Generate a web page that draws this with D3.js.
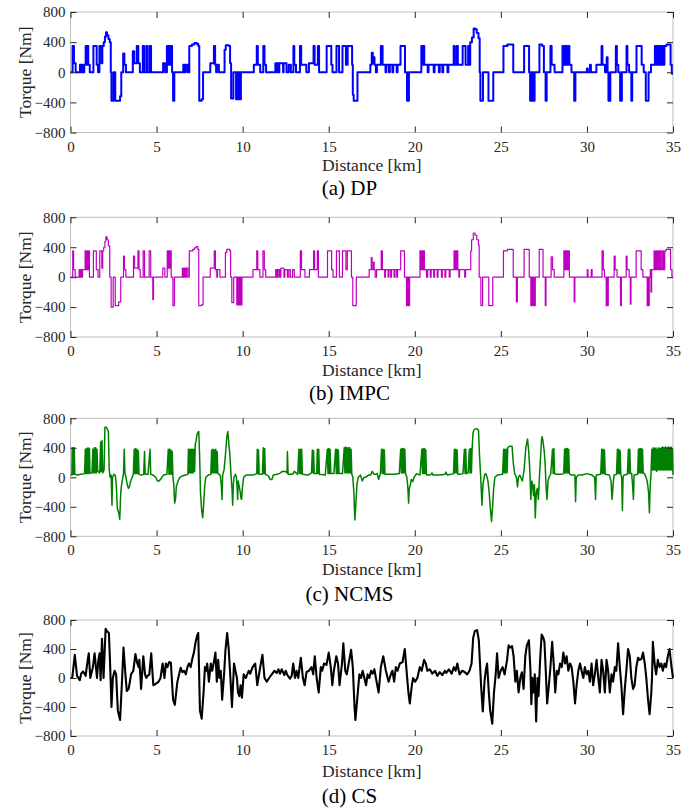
<!DOCTYPE html>
<html>
<head>
<meta charset="utf-8">
<script src="https://cdn.jsdelivr.net/npm/d3@7"></script>
<style>
  body { margin: 0; background: #fff; }
  svg { display: block; }
</style>
</head>
<body>
<script>
// Axis ticks and panel captions
const distanceTicks = [0, 5, 10, 15, 20, 25, 30, 35];
const torqueTicks = [-800, -400, 0, 400, 800];
const captions = ["(a) DP", "(b) IMPC", "(c) NCMS", "(d) CS"];

// Torque [Nm] versus distance [km]; DP and IMPC hold each value until the next breakpoint
const dpTorque = [
  [0,0],[0.12,350],[0.2,120],[0.3,0],
  [0.55,100],[0.62,0],[0.67,100],[0.75,0],[0.8,100],[0.88,350],[0.92,100],[0.97,350],[1.03,100],[1.12,0],
  [1.33,350],[1.52,100],[1.6,0],
  [1.68,350],[1.8,120],[1.85,350],[1.93,400],[2.0,470],[2.06,530],[2.12,490],[2.2,440],[2.28,400],[2.34,0],
  [2.38,-380],[2.5,0],[2.6,-380],[2.88,-320],[2.95,0],
  [3.06,250],[3.13,100],[3.22,0],
  [3.62,280],[3.7,120],[3.85,350],[3.94,120],[4.03,0],
  [4.2,350],[4.27,0],[4.4,350],[4.47,0],[4.6,350],[4.68,0],
  [5.38,120],[5.5,0],[5.6,350],[5.64,100],[5.68,350],[5.72,100],[5.76,350],[5.82,100],[5.86,350],[5.9,0],
  [5.96,-380],[6.03,0],
  [6.55,100],[6.62,0],[6.68,100],[6.8,0],
  [6.9,350],[7.05,370],[7.2,390],[7.32,380],[7.42,350],[7.48,-380],[7.62,-360],[7.7,0],
  [8.12,120],[8.33,350],[8.4,100],[8.46,0],[8.5,100],[8.62,0],
  [8.95,300],[9.02,360],[9.2,350],[9.27,120],[9.33,-350],[9.46,0],
  [9.62,-360],[9.66,0],[9.7,-360],[9.74,0],[9.77,-360],[9.82,0],[9.85,-360],[9.9,0],
  [10.65,100],[10.82,350],[10.88,100],[11.02,0],[11.2,350],[11.27,100],[11.36,0],
  [11.9,120],[12.0,0],[12.03,120],[12.1,0],[12.13,120],[12.35,0],[12.38,120],[12.55,0],
  [12.68,100],[12.8,0],[12.95,350],[13.0,100],[13.1,0],[13.33,350],[13.4,100],[13.7,0],
  [13.85,120],[14.12,350],[14.18,100],[14.37,350],[14.44,0],
  [14.88,350],[15.15,100],[15.22,0],[15.45,350],[15.6,0],[15.8,350],[16.0,100],[16.1,350],[16.36,100],[16.4,-300],[16.45,-380],[16.67,0],
  [17.42,100],[17.5,260],[17.56,120],[17.62,200],[17.66,100],[17.74,0],[17.8,100],[18.03,350],[18.13,100],[18.3,0],[18.35,100],[18.5,0],[18.55,100],[18.7,0],[18.75,100],[18.95,0],[19.0,100],[19.17,350],[19.43,0],
  [19.55,-380],[19.66,0],
  [20.38,350],[20.45,100],[20.5,350],[20.55,100],[20.75,0],[20.8,100],[21.1,0],[21.15,100],[21.4,0],[21.45,100],[21.6,0],[21.65,100],[21.9,0],[21.95,100],
  [22.26,350],[22.32,100],[22.44,350],[22.5,100],[22.78,350],[22.95,100],[23.1,350],[23.16,100],[23.22,400],[23.32,460],[23.42,580],[23.5,570],[23.6,520],[23.7,450],[23.77,0],
  [23.81,-380],[23.96,0],[24.28,-380],[24.56,0],
  [25.15,350],[25.38,370],[25.72,0],
  [26.35,350],[26.64,0],[26.7,-380],[26.74,0],[26.78,-380],[26.82,0],[26.88,-380],[26.96,0],
  [27.24,370],[27.4,350],[27.5,0],[27.6,-380],[27.66,0],[27.88,350],[27.95,100],[28.12,0],
  [28.58,350],[28.63,100],[28.7,350],[28.75,100],[28.8,350],[28.85,100],[28.92,350],[28.98,100],[29.1,0],
  [29.26,-380],[29.33,0],
  [30.0,50],[30.05,0],[30.18,100],[30.23,0],[30.55,100],[30.85,350],[30.9,100],[31.05,0],[31.15,200],[31.2,0],[31.25,-380],[31.36,0],
  [31.68,350],[31.74,100],[31.82,0],[31.93,-380],[32.03,0],[32.3,350],[32.35,100],[32.45,0],[32.58,-380],[32.63,0],
  [32.88,350],[33.18,100],[33.3,0],[33.42,-380],[33.58,0],[33.72,100],[33.95,350],[34.02,100],[34.1,350],[34.15,100],[34.22,350],[34.3,100],[34.38,350],[34.45,100],[34.5,350],[34.62,370],[34.86,100],[34.93,-20],[35,-20]
];

const impcTorque = [
  [0,0],[0.13,350],[0.18,100],[0.27,0],
  [0.5,100],[0.55,0],[0.6,100],[0.65,0],[0.7,100],[0.85,350],[0.9,100],[0.95,350],[1.0,100],[1.05,350],[1.1,0],
  [1.33,350],[1.5,100],[1.6,0],[1.7,350],[1.82,120],[1.87,350],[1.93,400],[2.0,480],[2.05,540],[2.12,500],[2.2,420],[2.28,0],
  [2.36,-400],[2.48,0],[2.6,-380],[2.8,-330],[2.92,0],
  [3.08,280],[3.13,100],[3.22,0],
  [3.66,280],[3.72,120],[3.92,350],[3.98,100],[4.05,0],[4.22,350],[4.3,0],[4.57,350],[4.66,0],[4.78,-300],[4.82,0],
  [5.36,120],[5.48,0],[5.62,350],[5.66,120],[5.7,350],[5.74,120],[5.78,350],[5.85,0],[5.95,-380],[6.04,0],
  [6.5,120],[6.54,0],[6.58,120],[6.62,0],[6.66,120],[6.7,0],[6.74,120],[6.82,0],
  [6.9,350],[7.1,370],[7.2,390],[7.3,410],[7.4,370],[7.45,-380],[7.6,-370],[7.7,0],
  [8.12,120],[8.35,350],[8.42,100],[8.5,0],[8.54,100],[8.68,0],
  [9.0,330],[9.08,370],[9.25,350],[9.3,0],[9.37,-340],[9.48,0],
  [9.66,-370],[9.69,0],[9.71,-370],[9.74,0],[9.76,-370],[9.79,0],[9.81,-370],[9.84,0],[9.86,-370],[9.89,0],[9.91,-370],[9.96,0],
  [10.6,100],[10.82,350],[10.88,100],[11.0,0],[11.18,350],[11.26,100],[11.34,0],
  [11.92,100],[11.98,0],[12.02,100],[12.1,0],[12.14,100],[12.18,0],[12.22,120],[12.4,0],[12.45,100],[12.6,0],[12.68,100],[12.77,0],
  [12.9,100],[13.0,0],[13.35,350],[13.42,100],[13.62,0],[13.88,100],[14.12,350],[14.18,100],[14.34,350],[14.4,0],
  [14.93,350],[15.17,100],[15.25,0],[15.45,350],[15.62,0],[15.8,350],[16.0,100],[16.08,350],[16.32,0],[16.4,-380],[16.6,0],
  [17.35,100],[17.47,260],[17.52,100],[17.6,200],[17.64,100],[17.7,0],[17.78,100],[18.05,350],[18.12,100],[18.25,0],[18.3,100],[18.45,0],[18.5,100],[18.6,0],[18.65,100],[18.8,0],[18.85,100],[18.95,0],[19.0,100],[19.18,350],[19.4,0],
  [19.52,-380],[19.56,0],[19.59,-380],[19.63,0],[19.66,-380],[19.7,0],
  [20.3,350],[20.35,100],[20.4,350],[20.45,100],[20.5,350],[20.56,100],[20.68,0],[20.75,100],[20.9,0],[20.95,100],[21.1,0],[21.15,100],[21.3,0],[21.35,100],[21.55,0],[21.6,100],[21.75,0],[21.8,100],[22.0,0],[22.05,100],
  [22.28,350],[22.33,100],[22.38,350],[22.43,100],[22.46,350],[22.5,100],[22.56,0],[22.6,100],[22.9,0],[22.95,100],[23.25,350],[23.3,500],[23.4,590],[23.5,560],[23.6,500],[23.7,430],[23.74,0],
  [23.84,-380],[23.94,0],[24.3,-380],[24.53,0],
  [25.15,350],[25.38,370],[25.72,0],[25.9,-330],[25.96,0],
  [26.35,370],[26.65,0],[26.74,-380],[26.78,0],[26.84,-380],[26.88,0],[26.94,-380],[27.0,0],
  [27.23,370],[27.45,0],[27.58,-380],[27.62,0],[27.92,270],[28.0,100],[28.1,0],
  [28.66,350],[28.7,100],[28.75,350],[28.8,100],[28.85,350],[28.9,100],[28.94,350],[28.98,0],
  [29.26,-330],[29.3,0],[30.02,100],[30.06,0],[30.25,100],[30.3,0],[30.88,350],[30.95,100],[31.02,0],
  [31.12,-380],[31.16,0],[31.19,-380],[31.24,0],[31.58,280],[31.64,100],[31.75,0],[31.95,-380],[32.0,0],
  [32.28,280],[32.33,100],[32.45,0],[32.52,-360],[32.56,0],[32.86,350],[33.15,100],[33.25,0],
  [33.5,-380],[33.55,0],[33.58,-380],[33.62,0],[33.68,100],[33.72,-200],[33.76,100],[33.9,350],[33.95,100],[34.02,350],[34.07,100],[34.14,350],[34.2,100],[34.26,350],[34.32,100],[34.4,350],[34.45,100],[34.52,350],[34.6,370],[34.86,100],[34.94,0],[35,0]
];

const ncmsTorque = [
  [0,30],[0.08,30],[0.1,400],[0.13,40],[0.16,400],[0.19,40],[0.22,400],[0.25,40],
  [0.4,30],[0.6,40],[0.82,50],
  [0.86,380],[0.9,50],[0.94,390],[0.98,50],[1.02,400],[1.06,50],[1.1,390],[1.13,60],[1.25,60],
  [1.3,380],[1.34,60],[1.38,400],[1.42,60],[1.46,400],[1.5,60],[1.54,380],[1.58,80],
  [1.7,60],[1.75,480],[1.79,80],[1.83,500],[1.87,60],
  [1.95,100],[2.0,680],[2.08,680],[2.15,650],[2.2,620],[2.25,100],[2.3,0],[2.36,30],[2.41,-380],[2.44,0],[2.52,40],[2.6,30],
  [2.66,-100],[2.72,-420],[2.8,-480],[2.86,-570],[2.92,-200],[2.98,-80],[3.04,0],[3.08,50],[3.12,380],[3.16,60],[3.22,0],
  [3.3,-100],[3.36,-150],[3.42,-130],[3.5,-50],[3.58,0],[3.65,40],
  [3.7,380],[3.74,50],[3.78,390],[3.82,50],[3.86,380],[3.9,50],[3.94,360],[3.98,40],
  [4.1,30],[4.25,40],[4.3,350],[4.34,40],[4.5,40],[4.62,380],[4.66,40],[4.8,30],[4.95,0],[5.05,-50],[5.15,-50],[5.25,-20],[5.4,30],[5.6,40],
  [5.68,380],[5.72,40],[5.76,380],[5.8,40],[5.84,370],[5.88,40],[5.91,350],[5.95,0],
  [6.0,-100],[6.05,-350],[6.1,-300],[6.15,-120],[6.25,-50],[6.35,0],[6.5,20],[6.7,30],[6.82,40],
  [6.85,380],[6.89,60],[6.93,380],[6.97,60],[7.01,380],[7.05,60],[7.09,380],[7.13,60],[7.17,380],[7.21,80],
  [7.25,450],[7.3,500],[7.35,580],[7.4,610],[7.45,620],[7.5,300],[7.55,-200],[7.62,-450],[7.68,-550],[7.74,-350],[7.8,-100],[7.86,0],[8.0,30],[8.15,40],
  [8.2,370],[8.24,60],[8.28,380],[8.32,60],[8.36,370],[8.4,60],[8.44,380],[8.48,60],[8.52,350],[8.56,50],
  [8.7,30],[8.76,-100],[8.8,-300],[8.84,30],[8.92,100],[9.0,300],[9.08,550],[9.14,620],[9.2,450],[9.26,300],[9.32,50],
  [9.38,-150],[9.42,-380],[9.46,-100],[9.5,0],[9.58,40],[9.64,0],[9.68,-150],[9.71,-300],[9.74,-50],[9.78,-100],[9.82,-150],[9.86,-200],[9.9,-280],[9.94,-300],[9.98,-150],[10.06,0],[10.2,30],[10.6,30],
  [10.82,50],[10.85,380],[10.89,50],[10.92,370],[10.96,40],
  [11.15,40],[11.2,400],[11.24,50],[11.28,390],[11.32,40],[11.5,20],[11.6,-30],[11.7,-30],[11.78,30],[12.0,40],[12.2,60],[12.3,80],[12.5,80],[12.58,60],[12.6,350],[12.64,40],[12.9,40],[13.0,80],[13.1,60],[13.2,40],
  [13.27,380],[13.31,50],[13.35,380],[13.39,50],[13.43,380],[13.47,40],
  [13.8,30],[14.0,60],[14.05,370],[14.09,60],[14.12,360],[14.16,50],[14.3,50],[14.34,380],[14.38,50],[14.42,380],[14.46,40],[14.8,30],
  [14.92,380],[14.96,50],[15.0,390],[15.04,50],[15.08,380],[15.12,50],[15.3,50],
  [15.4,380],[15.44,50],[15.48,380],[15.52,50],[15.56,370],[15.6,50],[15.8,50],
  [15.9,400],[15.94,60],[15.98,410],[16.02,60],[16.06,400],[16.1,60],[16.14,400],[16.18,60],[16.22,400],[16.26,60],[16.3,380],[16.34,40],
  [16.4,0],[16.46,-200],[16.52,-580],[16.58,-350],[16.64,-100],[16.71,0],[16.85,30],[16.95,-50],[17.05,0],[17.14,0],[17.3,30],[17.43,30],[17.53,80],[17.63,40],[17.72,40],[17.82,50],[17.9,-30],[18.0,50],
  [18.07,380],[18.11,50],[18.15,380],[18.19,50],[18.23,370],[18.27,40],[18.4,40],[18.8,40],[19.1,50],
  [19.18,380],[19.22,60],[19.26,390],[19.3,60],[19.34,390],[19.38,60],[19.42,380],[19.46,50],
  [19.54,0],[19.6,-150],[19.64,-350],[19.68,-150],[19.74,-100],[19.8,-30],[19.88,-60],[19.96,0],[20.1,50],[20.3,30],
  [20.41,380],[20.45,50],[20.49,390],[20.53,50],[20.57,390],[20.61,50],[20.64,370],[20.68,30],[20.9,30],[21.0,60],[21.06,30],[21.5,30],[21.75,40],[21.81,70],[21.88,30],[22.1,40],[22.25,50],
  [22.3,380],[22.34,60],[22.38,380],[22.42,60],[22.46,370],[22.5,40],[22.6,40],[22.8,50],[22.88,380],[22.92,50],[22.96,380],[23.0,50],[23.1,60],
  [23.17,380],[23.21,60],[23.25,390],[23.29,60],[23.33,380],[23.38,600],[23.45,650],[23.6,660],[23.7,640],[23.76,300],
  [23.84,-50],[23.9,-380],[23.96,-100],[24.05,30],[24.12,50],[24.2,0],[24.25,-50],[24.32,-200],[24.38,-400],[24.46,-600],[24.52,-400],[24.58,-150],[24.65,0],[24.8,30],[25.1,40],
  [25.16,380],[25.2,60],[25.24,380],[25.28,60],[25.32,380],[25.36,60],[25.4,400],[25.5,420],[25.65,420],[25.72,200],[25.8,50],[25.9,0],[25.97,-130],[26.02,0],[26.1,30],[26.25,-50],
  [26.35,100],[26.45,400],[26.55,520],[26.62,350],[26.68,100],[26.74,-300],[26.8,-50],[26.85,-100],[26.9,-250],[26.95,-100],[27.0,-550],[27.06,-200],[27.12,-150],[27.18,-300],[27.24,0],
  [27.3,250],[27.36,500],[27.4,550],[27.46,470],[27.52,350],[27.58,150],[27.62,-100],[27.68,-300],[27.74,-50],[27.8,0],[27.9,50],
  [28.0,380],[28.04,50],[28.08,390],[28.12,50],[28.2,40],[28.5,40],[28.65,50],
  [28.7,380],[28.74,60],[28.78,390],[28.82,60],[28.86,390],[28.9,60],[28.94,380],[28.98,50],[29.1,30],[29.3,30],[29.34,-330],[29.38,0],[29.5,30],[29.7,30],[30.0,50],[30.3,30],[30.45,0],[30.5,-300],[30.54,30],[30.8,40],
  [30.86,380],[30.9,50],[30.94,380],[30.98,50],[31.02,370],[31.06,40],[31.3,30],[31.4,-50],[31.46,-300],[31.52,-100],[31.58,30],[31.72,40],
  [31.77,380],[31.81,50],[31.85,380],[31.89,50],[31.93,360],[31.97,30],[32.02,0],[32.06,-450],[32.1,0],[32.15,30],[32.35,40],
  [32.41,380],[32.45,50],[32.49,380],[32.53,50],[32.6,50],[32.65,-100],[32.7,-300],[32.74,30],[32.95,40],
  [32.99,380],[33.03,60],[33.07,390],[33.11,60],[33.15,390],[33.19,60],[33.23,380],[33.27,50],[33.35,50],[33.5,-50],[33.58,-200],[33.63,-480],[33.68,-100],[33.72,30],
  [33.77,380],[33.81,100],[33.85,400],[33.89,100],[33.93,390],[33.97,100],[34.01,400],[34.05,80],[34.09,380],[34.13,100],[34.17,400],[34.21,100],[34.25,390],[34.29,100],[34.33,400],[34.37,100],
  [34.41,410],[34.45,100],[34.49,400],[34.53,100],[34.57,410],[34.61,100],[34.65,400],[34.69,100],[34.73,410],[34.77,100],[34.81,400],[34.85,100],[34.89,410],[34.93,100],[34.97,380],[35,30]
];

const csTorque = [
  [0,0],[0.1,0],[0.25,320],[0.38,30],[0.54,-30],[0.62,60],[0.73,90],[0.88,30],[0.96,180],[1.06,340],[1.15,0],[1.3,150],[1.4,340],[1.54,0],[1.62,250],[1.69,340],[1.75,-30],[1.83,540],[1.92,0],
  [2.04,680],[2.1,650],[2.23,620],[2.3,200],[2.38,-400],[2.46,0],[2.56,100],[2.65,50],[2.75,-450],[2.88,-580],[2.98,-100],[3.08,420],[3.19,50],[3.27,-180],[3.38,-150],[3.52,50],[3.65,100],[3.77,330],[3.88,200],[3.96,150],
  [4.0,250],[4.1,-150],[4.23,300],[4.33,50],[4.4,0],[4.48,30],[4.58,50],[4.69,340],[4.81,-100],[4.96,-80],[5.12,-50],[5.23,0],[5.35,200],[5.46,0],[5.54,200],[5.63,150],[5.73,220],[5.83,210],[5.96,-300],
  [6.06,-370],[6.21,-50],[6.31,50],[6.4,140],[6.5,80],[6.6,100],[6.7,50],[6.79,150],[6.88,200],[6.98,150],[7.08,270],[7.17,350],[7.27,500],[7.35,580],[7.42,620],[7.52,-450],[7.62,-560],[7.73,-200],
  [7.81,150],[7.88,100],[7.94,200],[8.04,-50],[8.15,200],[8.23,100],[8.33,220],[8.42,350],[8.5,-50],[8.58,250],[8.65,0],[8.73,100],[8.81,-300],[8.92,50],[9.0,380],[9.1,620],[9.19,400],[9.29,0],[9.38,-400],
  [9.5,200],[9.58,100],[9.67,0],[9.73,-200],[9.81,-250],[9.88,-100],[9.96,-270],[10.06,50],[10.19,0],[10.35,100],[10.44,60],[10.58,150],[10.73,200],[10.85,-100],[11.02,150],[11.15,320],[11.27,0],[11.4,-50],
  [11.54,0],[11.69,50],[11.85,100],[11.98,70],[12.08,120],[12.17,60],[12.27,120],[12.42,40],[12.5,100],[12.6,40],[12.75,-10],[12.85,30],[12.94,200],[13.04,0],[13.13,100],[13.23,0],[13.38,280],[13.5,0],
  [13.6,-100],[13.71,80],[13.85,100],[14.0,150],[14.1,50],[14.19,300],[14.3,0],[14.42,-200],[14.54,150],[14.62,100],[14.73,200],[14.87,180],[15.0,350],[15.12,150],[15.21,-100],[15.3,100],[15.44,300],
  [15.54,200],[15.63,-100],[15.77,200],[15.85,480],[15.96,100],[16.05,50],[16.3,390],[16.4,150],[16.5,-400],[16.55,-580],[16.69,-200],[16.78,50],[16.88,0],[16.97,100],[17.07,0],[17.17,-100],[17.26,50],
  [17.36,0],[17.46,100],[17.55,60],[17.65,120],[17.78,-50],[17.9,-200],[18.03,150],[18.17,300],[18.32,100],[18.48,-50],[18.61,50],[18.7,100],[18.8,-50],[18.9,150],[19.0,100],[19.13,200],[19.29,220],
  [19.42,400],[19.54,50],[19.63,-200],[19.71,-350],[19.83,-100],[19.9,0],[20.02,-50],[20.15,0],[20.29,150],[20.4,100],[20.54,250],[20.64,200],[20.73,100],[20.87,120],[21.02,60],[21.18,100],[21.31,30],
  [21.45,80],[21.6,40],[21.75,100],[21.83,70],[21.98,120],[22.14,60],[22.27,150],[22.37,100],[22.47,200],[22.6,50],[22.76,100],[22.91,80],[23.04,50],[23.18,100],[23.3,200],[23.39,550],[23.49,650],
  [23.62,660],[23.72,520],[23.85,-100],[23.95,-460],[24.05,-50],[24.12,100],[24.2,200],[24.3,-200],[24.38,-450],[24.5,-630],[24.6,-200],[24.7,50],[24.78,340],[24.87,0],[24.99,100],[25.1,150],[25.22,50],
  [25.36,250],[25.45,450],[25.55,420],[25.65,440],[25.74,300],[25.84,-50],[25.93,100],[26.03,-200],[26.13,0],[26.22,80],[26.32,-150],[26.42,300],[26.51,450],[26.63,520],[26.72,100],[26.77,-360],[26.83,0],
  [26.89,-200],[26.97,50],[27.05,-600],[27.13,0],[27.19,-250],[27.28,250],[27.37,600],[27.46,560],[27.53,500],[27.59,200],[27.69,-350],[27.79,-100],[27.88,150],[27.98,500],[28.07,200],[28.16,-200],
  [28.25,100],[28.34,50],[28.44,200],[28.54,150],[28.63,350],[28.73,200],[28.82,300],[28.92,100],[29.02,200],[29.11,150],[29.21,-50],[29.31,-350],[29.4,-100],[29.5,100],[29.6,200],[29.69,100],[29.79,0],
  [29.88,150],[29.98,50],[30.08,100],[30.17,-50],[30.27,200],[30.36,-100],[30.46,50],[30.56,250],[30.66,0],[30.75,-200],[30.85,250],[30.94,100],[31.04,-200],[31.14,250],[31.23,100],[31.33,-200],[31.43,50],
  [31.52,-50],[31.62,150],[31.71,100],[31.81,480],[31.91,150],[32.0,-100],[32.1,-500],[32.2,-150],[32.29,100],[32.39,400],[32.49,300],[32.58,0],[32.68,-150],[32.77,-100],[32.87,150],[32.97,280],
  [33.06,250],[33.16,260],[33.26,350],[33.36,200],[33.45,0],[33.55,-300],[33.64,-500],[33.74,-200],[33.78,0],[33.83,500],[33.93,200],[34.02,50],[34.12,250],[34.22,150],[34.32,200],[34.41,100],
  [34.51,200],[34.6,150],[34.7,300],[34.8,400],[34.89,200],[35.0,0]
];

// Layout of the four stacked axes
const width = 699, height = 809;
const plotLeft = 70.5, plotRight = 673;
const panelTops = [12, 217.3, 418.3, 620];
const panelBottoms = [132.5, 337, 536.3, 736];
const xLabelBaselines = [171, 375.7, 574.5, 776.5];
const captionBaselines = [195, 399.5, 601, 803];

const series = [
  { data: dpTorque,   color: "#0000ff", width: 2.0, curve: d3.curveStepAfter },
  { data: impcTorque, color: "#c000c0", width: 1.2, curve: d3.curveStepAfter },
  { data: ncmsTorque, color: "#008000", width: 1.5, curve: d3.curveLinear },
  { data: csTorque,   color: "#000000", width: 2.1, curve: d3.curveLinear }
];

const serif = "'Liberation Serif', 'Times New Roman', Times, serif";
const axisGrey = "#262626";

const svg = d3.select("body").append("svg")
  .attr("width", width).attr("height", height)
  .style("font-family", serif);

const x = d3.scaleLinear().domain([0, 35]).range([plotLeft, plotRight]);

series.forEach((s, i) => {
  const top = panelTops[i], bottom = panelBottoms[i];
  const y = d3.scaleLinear().domain([-800, 800]).range([bottom, top]);
  const g = svg.append("g");

  // Box
  g.append("rect")
    .attr("x", plotLeft).attr("y", top)
    .attr("width", plotRight - plotLeft).attr("height", bottom - top)
    .attr("fill", "none").attr("stroke", "#bdbdbd").attr("stroke-width", 1);

  // Trace
  const line = d3.line()
    .x(d => x(d[0])).y(d => y(d[1]))
    .curve(s.curve);
  g.append("path")
    .datum(s.data)
    .attr("d", line)
    .attr("fill", "none")
    .attr("stroke", s.color)
    .attr("stroke-width", s.width)
    .attr("stroke-linejoin", "round");

  // Axes with inward ticks on all four sides
  const styleAxis = sel => {
    sel.select(".domain").remove();
    sel.selectAll(".tick line").attr("stroke", axisGrey).attr("stroke-width", 1);
    sel.selectAll(".tick text")
      .attr("fill", axisGrey)
      .style("font-family", serif)
      .style("font-size", "15px");
  };

  g.append("g").attr("transform", `translate(0,${bottom})`)
    .call(d3.axisBottom(x).tickValues(distanceTicks).tickSizeInner(-6).tickSizeOuter(0).tickPadding(8.5))
    .call(styleAxis);
  g.append("g").attr("transform", `translate(0,${top})`)
    .call(d3.axisTop(x).tickValues(distanceTicks).tickSizeInner(-6).tickSizeOuter(0).tickFormat(""))
    .call(styleAxis);
  g.append("g").attr("transform", `translate(${plotLeft},0)`)
    .call(d3.axisLeft(y).tickValues(torqueTicks).tickSizeInner(-6).tickSizeOuter(0).tickPadding(5))
    .call(styleAxis);
  g.append("g").attr("transform", `translate(${plotRight},0)`)
    .call(d3.axisRight(y).tickValues(torqueTicks).tickSizeInner(-6).tickSizeOuter(0).tickFormat(""))
    .call(styleAxis);

  // Axis titles
  g.append("text")
    .attr("transform", `translate(30.5,${(top + bottom) / 2}) rotate(-90)`)
    .attr("text-anchor", "middle")
    .attr("fill", axisGrey)
    .style("font-size", "17.5px")
    .text("Torque [Nm]");
  g.append("text")
    .attr("x", (plotLeft + plotRight) / 2)
    .attr("y", xLabelBaselines[i])
    .attr("text-anchor", "middle")
    .attr("fill", axisGrey)
    .style("font-size", "17.5px")
    .text("Distance [km]");

  // Caption
  g.append("text")
    .attr("x", width / 2)
    .attr("y", captionBaselines[i])
    .attr("text-anchor", "middle")
    .attr("fill", "#000")
    .style("font-size", "21px")
    .text(captions[i]);
});
</script>
</body>
</html>
